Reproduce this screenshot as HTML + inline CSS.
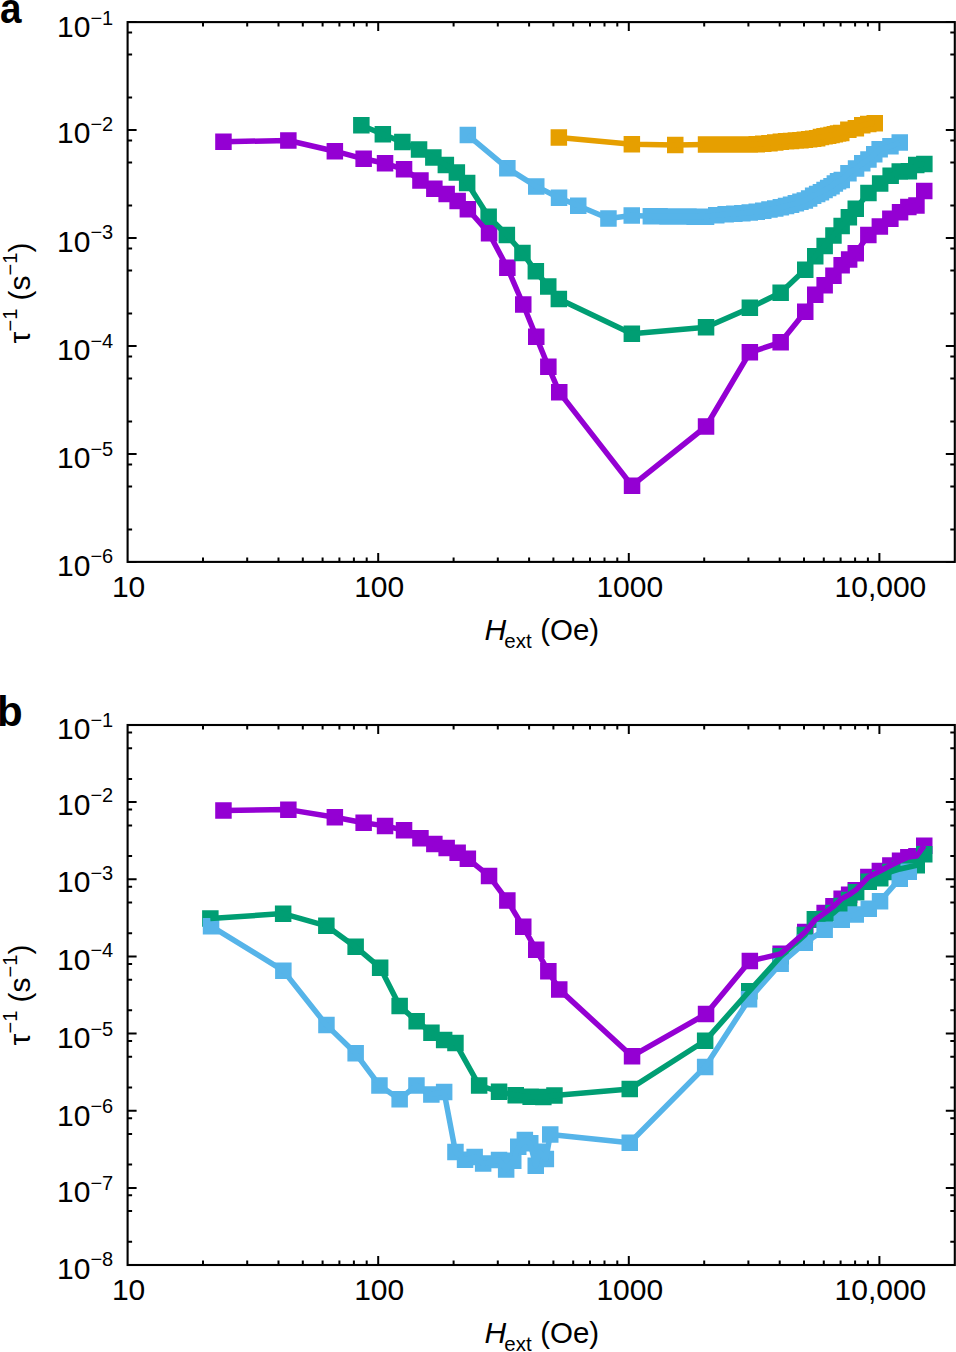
<!DOCTYPE html>
<html><head><meta charset="utf-8"><title>Relaxation rate vs field</title>
<style>html,body{margin:0;padding:0;background:#fff;width:956px;height:1352px;overflow:hidden}svg{display:block;font-family:"Liberation Sans",sans-serif}</style>
</head><body>
<svg width="956" height="1352" viewBox="0 0 956 1352">
<rect width="956" height="1352" fill="#fff"/>
<path fill="#9400D3" d="M215.2 133.4h16.5v16.5h-16.5zM280.1 132.2h16.5v16.5h-16.5zM326.6 142.9h16.5v16.5h-16.5zM355.4 150.6h16.5v16.5h-16.5zM376.8 155.1h16.5v16.5h-16.5zM395.8 161.1h16.5v16.5h-16.5zM412.2 172.2h16.5v16.5h-16.5zM426.1 180.4h16.5v16.5h-16.5zM438.4 185.8h16.5v16.5h-16.5zM449.4 192.8h16.5v16.5h-16.5zM459.6 201.1h16.5v16.5h-16.5zM480.8 225.1h16.5v16.5h-16.5zM499.1 259.6h16.5v16.5h-16.5zM515 296.2h16.5v16.5h-16.5zM528 328.4h16.5v16.5h-16.5zM540.1 358.6h16.5v16.5h-16.5zM551 383.9h16.5v16.5h-16.5zM623.8 477.4h16.5v16.5h-16.5zM697.8 418.2h16.5v16.5h-16.5zM741.6 344.1h16.5v16.5h-16.5zM772.4 334.1h16.5v16.5h-16.5zM797 303.6h16.5v16.5h-16.5zM807 286.4h16.5v16.5h-16.5zM816.4 277.1h16.5v16.5h-16.5zM825.2 267.6h16.5v16.5h-16.5zM833.4 257.1h16.5v16.5h-16.5zM840.9 251.2h16.5v16.5h-16.5zM847.5 244.9h16.5v16.5h-16.5zM860.1 226.7h16.5v16.5h-16.5zM871.6 218.2h16.5v16.5h-16.5zM882.1 210.4h16.5v16.5h-16.5zM891.8 203.9h16.5v16.5h-16.5zM900.1 198.8h16.5v16.5h-16.5zM908.2 197.3h16.5v16.5h-16.5zM916 182.8h16.5v16.5h-16.5z"/>
<path fill="#009E73" d="M353.1 117h16.5v16.5h-16.5zM374.6 126.1h16.5v16.5h-16.5zM394.1 133.8h16.5v16.5h-16.5zM410.8 141.3h16.5v16.5h-16.5zM425.1 149.2h16.5v16.5h-16.5zM437.6 156.7h16.5v16.5h-16.5zM448.6 164.2h16.5v16.5h-16.5zM458.9 174.8h16.5v16.5h-16.5zM480.4 208.4h16.5v16.5h-16.5zM498.6 226.8h16.5v16.5h-16.5zM514.2 244.8h16.5v16.5h-16.5zM527.6 263.1h16.5v16.5h-16.5zM540 278.2h16.5v16.5h-16.5zM550.6 290.8h16.5v16.5h-16.5zM623.6 325.4h16.5v16.5h-16.5zM697.8 319.1h16.5v16.5h-16.5zM741.6 299.6h16.5v16.5h-16.5zM772.4 284.4h16.5v16.5h-16.5zM797 261.4h16.5v16.5h-16.5zM807 248.1h16.5v16.5h-16.5zM816.4 237.7h16.5v16.5h-16.5zM825.2 227.2h16.5v16.5h-16.5zM833.4 217.8h16.5v16.5h-16.5zM840.6 208.9h16.5v16.5h-16.5zM847.5 200.6h16.5v16.5h-16.5zM860.2 184.8h16.5v16.5h-16.5zM871.9 175.3h16.5v16.5h-16.5zM882.4 167.6h16.5v16.5h-16.5zM891.5 163.3h16.5v16.5h-16.5zM900.6 163.1h16.5v16.5h-16.5zM908 156.8h16.5v16.5h-16.5zM916.1 155.8h16.5v16.5h-16.5z"/>
<path fill="#56B4E9" d="M459.6 126.8h16.5v16.5h-16.5zM499.1 159.9h16.5v16.5h-16.5zM528 178.2h16.5v16.5h-16.5zM550.8 189.6h16.5v16.5h-16.5zM570 197.4h16.5v16.5h-16.5zM600.2 210.2h16.5v16.5h-16.5zM623.5 207.3h16.5v16.5h-16.5zM642.6 208.1h16.5v16.5h-16.5zM651.3 208.1h16.5v16.5h-16.5zM659.3 208.2h16.5v16.5h-16.5zM666.7 208.2h16.5v16.5h-16.5zM673.7 208.3h16.5v16.5h-16.5zM680.2 208.3h16.5v16.5h-16.5zM686.4 208.4h16.5v16.5h-16.5zM692.2 208.4h16.5v16.5h-16.5zM697.8 208.4h16.5v16.5h-16.5zM708 207h16.5v16.5h-16.5zM717.4 206h16.5v16.5h-16.5zM726.1 205.6h16.5v16.5h-16.5zM734.1 204.9h16.5v16.5h-16.5zM741.5 204.2h16.5v16.5h-16.5zM748.5 203.4h16.5v16.5h-16.5zM755 202.5h16.5v16.5h-16.5zM761.2 201.2h16.5v16.5h-16.5zM767 200.2h16.5v16.5h-16.5zM772.6 199h16.5v16.5h-16.5zM777.8 197.8h16.5v16.5h-16.5zM782.8 196.4h16.5v16.5h-16.5zM787.6 195h16.5v16.5h-16.5zM792.2 193.6h16.5v16.5h-16.5zM796.6 192.2h16.5v16.5h-16.5zM800.9 190.2h16.5v16.5h-16.5zM804.9 187.6h16.5v16.5h-16.5zM808.9 185.7h16.5v16.5h-16.5zM812.7 183.9h16.5v16.5h-16.5zM816.3 181.8h16.5v16.5h-16.5zM819.9 179.8h16.5v16.5h-16.5zM823.3 177.9h16.5v16.5h-16.5zM826.6 175.2h16.5v16.5h-16.5zM829.8 173h16.5v16.5h-16.5zM833.5 171.8h16.5v16.5h-16.5zM840.2 164.9h16.5v16.5h-16.5zM847.8 160.2h16.5v16.5h-16.5zM854 155.1h16.5v16.5h-16.5zM860.2 151.2h16.5v16.5h-16.5zM866 146.1h16.5v16.5h-16.5zM871.4 140.9h16.5v16.5h-16.5zM882.2 138.1h16.5v16.5h-16.5zM891.5 134.3h16.5v16.5h-16.5z"/>
<path fill="#E69F00" d="M550.6 129.2h16.5v16.5h-16.5zM623.6 136.1h16.5v16.5h-16.5zM667 136.8h16.5v16.5h-16.5zM697.8 136.2h16.5v16.5h-16.5zM708 136.2h16.5v16.5h-16.5zM717.4 136.2h16.5v16.5h-16.5zM726.1 136.2h16.5v16.5h-16.5zM734.1 136.2h16.5v16.5h-16.5zM741.5 136.2h16.5v16.5h-16.5zM748.5 136h16.5v16.5h-16.5zM755 135.5h16.5v16.5h-16.5zM761.2 135h16.5v16.5h-16.5zM767 134.2h16.5v16.5h-16.5zM772.6 133.6h16.5v16.5h-16.5zM777.8 133h16.5v16.5h-16.5zM782.8 132.7h16.5v16.5h-16.5zM787.6 132.3h16.5v16.5h-16.5zM792.2 132h16.5v16.5h-16.5zM796.6 131.5h16.5v16.5h-16.5zM800.9 130.9h16.5v16.5h-16.5zM804.9 130.4h16.5v16.5h-16.5zM808.9 129.9h16.5v16.5h-16.5zM812.7 128.8h16.5v16.5h-16.5zM816.3 128.1h16.5v16.5h-16.5zM819.9 127.5h16.5v16.5h-16.5zM823.3 126.8h16.5v16.5h-16.5zM826.6 126h16.5v16.5h-16.5zM829.8 125.2h16.5v16.5h-16.5zM833 124.8h16.5v16.5h-16.5zM840.1 121.4h16.5v16.5h-16.5zM847.6 119.9h16.5v16.5h-16.5zM854 117h16.5v16.5h-16.5zM860 115.8h16.5v16.5h-16.5zM866.5 115h16.5v16.5h-16.5z"/>
<polyline fill="none" stroke="#E69F00" stroke-width="5.5" stroke-linejoin="round" stroke-linecap="butt" points="558.9,137.4 631.9,144.3 675.2,145.1 706,144.4 716.3,144.4 725.7,144.4 734.3,144.5 742.3,144.5 749.8,144.5 756.7,144.2 763.3,143.8 769.4,143.3 775.3,142.4 780.8,141.8 786.1,141.3 791.1,140.9 795.9,140.6 800.5,140.2 804.9,139.7 809.1,139.2 813.2,138.7 817.1,138.2 820.9,137 824.6,136.4 828.1,135.7 831.5,135.1 834.9,134.3 838.1,133.5 841.2,133.1 848.4,129.7 855.9,128.2 862.3,125.2 868.3,124 874.7,123.2"/>
<polyline fill="none" stroke="#56B4E9" stroke-width="5.5" stroke-linejoin="round" stroke-linecap="butt" points="467.8,135.1 507.3,168.2 536.2,186.4 559,197.8 578.3,205.7 608.5,218.5 631.8,215.6 650.9,216.3 659.5,216.4 667.5,216.4 675,216.5 681.9,216.5 688.5,216.6 694.6,216.6 700.5,216.7 706,216.6 716.3,215.3 725.7,214.3 734.3,213.9 742.3,213.1 749.8,212.4 756.7,211.7 763.3,210.7 769.4,209.4 775.3,208.5 780.8,207.2 786.1,206.1 791.1,204.6 795.9,203.3 800.5,201.8 804.9,200.4 809.1,198.4 813.2,195.8 817.1,193.9 820.9,192.1 824.6,190.1 828.1,188.1 831.5,186.2 834.9,183.5 838.1,181.3 841.8,180 848.5,173.2 856,168.5 862.3,163.3 868.5,159.5 874.2,154.3 879.6,149.2 890.5,146.3 899.7,142.6"/>
<polyline fill="none" stroke="#009E73" stroke-width="5.5" stroke-linejoin="round" stroke-linecap="butt" points="361.3,125.3 382.9,134.3 402.3,142.1 419,149.6 433.4,157.4 445.9,164.9 456.8,172.4 467.2,183 488.6,216.7 506.9,235 522.5,253 535.9,271.4 548.3,286.5 558.9,299 631.9,333.7 706,327.3 749.9,307.9 780.6,292.7 805.2,269.6 815.2,256.4 824.6,245.9 833.5,235.5 841.6,226 848.9,217.2 855.8,208.8 868.5,193.1 880.1,183.6 890.6,175.8 899.8,171.6 908.9,171.3 916.2,165.1 924.4,164"/>
<polyline fill="none" stroke="#9400D3" stroke-width="5.5" stroke-linejoin="round" stroke-linecap="butt" points="223.4,141.7 288.4,140.5 334.9,151.2 363.6,158.8 385,163.3 404,169.3 420.5,180.4 434.3,188.7 446.6,194.1 457.7,201 467.9,209.3 489,233.3 507.4,267.8 523.2,304.5 536.2,336.7 548.4,366.8 559.2,392.1 632,485.6 706,426.5 749.9,352.4 780.6,342.4 805.2,311.8 815.2,294.7 824.6,285.3 833.5,275.9 841.6,265.3 849.1,259.5 855.8,253.2 868.4,234.9 879.9,226.5 890.4,218.7 900,212.2 908.4,207 916.5,205.6 924.3,191"/>
<path fill="none" stroke="#000" stroke-width="2" d="M203 561.9v-4.5M203 22.1v4.5M247.2 561.9v-4.5M247.2 22.1v4.5M278.5 561.9v-4.5M278.5 22.1v4.5M302.8 561.9v-4.5M302.8 22.1v4.5M322.6 561.9v-4.5M322.6 22.1v4.5M339.4 561.9v-4.5M339.4 22.1v4.5M353.9 561.9v-4.5M353.9 22.1v4.5M366.7 561.9v-4.5M366.7 22.1v4.5M378.2 561.9v-9M378.2 22.1v9M453.6 561.9v-4.5M453.6 22.1v4.5M497.8 561.9v-4.5M497.8 22.1v4.5M529.1 561.9v-4.5M529.1 22.1v4.5M553.4 561.9v-4.5M553.4 22.1v4.5M573.2 561.9v-4.5M573.2 22.1v4.5M590 561.9v-4.5M590 22.1v4.5M604.5 561.9v-4.5M604.5 22.1v4.5M617.3 561.9v-4.5M617.3 22.1v4.5M628.8 561.9v-9M628.8 22.1v9M704.2 561.9v-4.5M704.2 22.1v4.5M748.4 561.9v-4.5M748.4 22.1v4.5M779.7 561.9v-4.5M779.7 22.1v4.5M804 561.9v-4.5M804 22.1v4.5M823.8 561.9v-4.5M823.8 22.1v4.5M840.6 561.9v-4.5M840.6 22.1v4.5M855.1 561.9v-4.5M855.1 22.1v4.5M867.9 561.9v-4.5M867.9 22.1v4.5M879.4 561.9v-9M879.4 22.1v9M127.6 22.1h9M954.8 22.1h-9M127.6 130.1h9M954.8 130.1h-9M127.6 97.6h4.5M954.8 97.6h-4.5M127.6 54.6h4.5M954.8 54.6h-4.5M127.6 32.6h4.5M954.8 32.6h-4.5M127.6 238h9M954.8 238h-9M127.6 205.5h4.5M954.8 205.5h-4.5M127.6 162.5h4.5M954.8 162.5h-4.5M127.6 140.5h4.5M954.8 140.5h-4.5M127.6 346h9M954.8 346h-9M127.6 313.5h4.5M954.8 313.5h-4.5M127.6 270.5h4.5M954.8 270.5h-4.5M127.6 248.5h4.5M954.8 248.5h-4.5M127.6 453.9h9M954.8 453.9h-9M127.6 421.4h4.5M954.8 421.4h-4.5M127.6 378.4h4.5M954.8 378.4h-4.5M127.6 356.4h4.5M954.8 356.4h-4.5M127.6 561.9h9M954.8 561.9h-9M127.6 529.4h4.5M954.8 529.4h-4.5M127.6 486.4h4.5M954.8 486.4h-4.5M127.6 464.4h4.5M954.8 464.4h-4.5"/>
<rect x="127.6" y="22.1" width="827.2" height="539.8" fill="none" stroke="#000" stroke-width="2.1"/>
<text x="57" y="37.1" font-family="Liberation Sans" font-size="30">10<tspan font-size="20" dy="-12.4">−1</tspan></text>
<text x="57" y="142.9" font-family="Liberation Sans" font-size="30">10<tspan font-size="20" dy="-12.4">−2</tspan></text>
<text x="57" y="251.8" font-family="Liberation Sans" font-size="30">10<tspan font-size="20" dy="-12.4">−3</tspan></text>
<text x="57" y="360.4" font-family="Liberation Sans" font-size="30">10<tspan font-size="20" dy="-12.4">−4</tspan></text>
<text x="57" y="468.1" font-family="Liberation Sans" font-size="30">10<tspan font-size="20" dy="-12.4">−5</tspan></text>
<text x="57" y="575.6" font-family="Liberation Sans" font-size="30">10<tspan font-size="20" dy="-12.4">−6</tspan></text>
<text x="128.6" y="596.9" font-family="Liberation Sans" font-size="30" text-anchor="middle">10</text>
<text x="379.2" y="596.9" font-family="Liberation Sans" font-size="30" text-anchor="middle">100</text>
<text x="629.8" y="596.9" font-family="Liberation Sans" font-size="30" text-anchor="middle">1000</text>
<text x="880.4" y="596.9" font-family="Liberation Sans" font-size="30" text-anchor="middle">10,000</text>
<text x="484.6" y="639.8" font-family="Liberation Sans" font-size="30" font-style="italic">H</text><text x="504.3" y="647.8" font-family="Liberation Sans" font-size="20.5">ext</text><text x="540.2" y="639.8" font-family="Liberation Sans" font-size="29.5">(Oe)</text>
<text transform="translate(30,293) rotate(-90)" font-family="Liberation Sans" font-size="30" text-anchor="middle">τ<tspan font-size="20" dy="-13.4">−1</tspan><tspan dy="13.4"> (s</tspan><tspan font-size="20" dy="-13.4">−1</tspan><tspan dy="13.4">)</tspan></text>
<text x="0" y="22.7" transform="scale(0.92,1)" font-family="Liberation Sans" font-size="42" font-weight="bold">a</text>
<path fill="#9400D3" d="M215.2 802.2h16.5v16.5h-16.5zM280.1 801.4h16.5v16.5h-16.5zM326.6 809h16.5v16.5h-16.5zM355.4 814.4h16.5v16.5h-16.5zM376.8 817.7h16.5v16.5h-16.5zM395.8 821.9h16.5v16.5h-16.5zM412.2 829.9h16.5v16.5h-16.5zM426.1 835.8h16.5v16.5h-16.5zM438.4 839.7h16.5v16.5h-16.5zM449.4 844.6h16.5v16.5h-16.5zM459.6 850.5h16.5v16.5h-16.5zM480.8 867.7h16.5v16.5h-16.5zM499.1 892.3h16.5v16.5h-16.5zM515 918.6h16.5v16.5h-16.5zM528 941.6h16.5v16.5h-16.5zM540.1 963.1h16.5v16.5h-16.5zM551 981.2h16.5v16.5h-16.5zM623.8 1048h16.5v16.5h-16.5zM697.8 1005.7h16.5v16.5h-16.5zM741.6 952.8h16.5v16.5h-16.5zM772.4 945.6h16.5v16.5h-16.5zM797 923.8h16.5v16.5h-16.5zM807 911.6h16.5v16.5h-16.5zM816.4 904.8h16.5v16.5h-16.5zM825.2 898.1h16.5v16.5h-16.5zM833.4 890.5h16.5v16.5h-16.5zM840.9 886.4h16.5v16.5h-16.5zM847.5 881.9h16.5v16.5h-16.5zM860.1 868.8h16.5v16.5h-16.5zM871.6 862.8h16.5v16.5h-16.5zM882.1 857.2h16.5v16.5h-16.5zM891.8 852.6h16.5v16.5h-16.5zM900.1 848.9h16.5v16.5h-16.5zM908.2 847.9h16.5v16.5h-16.5zM916 837.4h16.5v16.5h-16.5z"/>
<path fill="#009E73" d="M202.1 910.2h16.5v16.5h-16.5zM274.9 905.4h16.5v16.5h-16.5zM318.1 917.5h16.5v16.5h-16.5zM347.4 938.6h16.5v16.5h-16.5zM371.9 959.4h16.5v16.5h-16.5zM391.4 997.8h16.5v16.5h-16.5zM408.4 1012.9h16.5v16.5h-16.5zM423.2 1024.5h16.5v16.5h-16.5zM435.9 1031.8h16.5v16.5h-16.5zM447.2 1034.8h16.5v16.5h-16.5zM470.9 1077.2h16.5v16.5h-16.5zM490.8 1083.5h16.5v16.5h-16.5zM507.5 1087h16.5v16.5h-16.5zM522.4 1088.5h16.5v16.5h-16.5zM535.1 1088.8h16.5v16.5h-16.5zM546.2 1087.2h16.5v16.5h-16.5zM621.5 1080.7h16.5v16.5h-16.5zM696.9 1032.5h16.5v16.5h-16.5zM741 983h16.5v16.5h-16.5zM772.5 948.1h16.5v16.5h-16.5zM796.6 926.8h16.5v16.5h-16.5zM806.6 910.9h16.5v16.5h-16.5zM816.4 910.8h16.5v16.5h-16.5zM825.2 904.8h16.5v16.5h-16.5zM833.4 897.8h16.5v16.5h-16.5zM840.8 891.8h16.5v16.5h-16.5zM847.9 883.9h16.5v16.5h-16.5zM860.5 873.5h16.5v16.5h-16.5zM872 869.9h16.5v16.5h-16.5zM882.2 863.8h16.5v16.5h-16.5zM891.8 860.8h16.5v16.5h-16.5zM900.6 858.8h16.5v16.5h-16.5zM908.5 857h16.5v16.5h-16.5zM916 846h16.5v16.5h-16.5z"/>
<path fill="#56B4E9" d="M202.8 917.9h16.5v16.5h-16.5zM275.1 962.4h16.5v16.5h-16.5zM318.2 1016.8h16.5v16.5h-16.5zM347.4 1045h16.5v16.5h-16.5zM371.2 1077.2h16.5v16.5h-16.5zM391.4 1091h16.5v16.5h-16.5zM408.2 1077.2h16.5v16.5h-16.5zM423.1 1086.2h16.5v16.5h-16.5zM435.9 1083.8h16.5v16.5h-16.5zM447.2 1143.8h16.5v16.5h-16.5zM456.8 1151.5h16.5v16.5h-16.5zM466.4 1148.8h16.5v16.5h-16.5zM474.9 1155.3h16.5v16.5h-16.5zM490.8 1151.8h16.5v16.5h-16.5zM497.9 1161.2h16.5v16.5h-16.5zM505 1152.5h16.5v16.5h-16.5zM510 1138.5h16.5v16.5h-16.5zM516.6 1131.7h16.5v16.5h-16.5zM522 1135h16.5v16.5h-16.5zM527.5 1157.5h16.5v16.5h-16.5zM531.2 1143.5h16.5v16.5h-16.5zM537.6 1150.7h16.5v16.5h-16.5zM542 1126.2h16.5v16.5h-16.5zM621.5 1134.5h16.5v16.5h-16.5zM696.9 1058.7h16.5v16.5h-16.5zM740.8 991.1h16.5v16.5h-16.5zM772.4 955.4h16.5v16.5h-16.5zM796.5 934.6h16.5v16.5h-16.5zM816.4 921.5h16.5v16.5h-16.5zM833.5 911.5h16.5v16.5h-16.5zM847.5 906.2h16.5v16.5h-16.5zM860.5 900.5h16.5v16.5h-16.5zM871.8 892.9h16.5v16.5h-16.5zM891.5 870.5h16.5v16.5h-16.5zM900.5 863.5h16.5v16.5h-16.5z"/>
<polyline fill="none" stroke="#56B4E9" stroke-width="5.5" stroke-linejoin="round" stroke-linecap="butt" points="211,926.1 283.3,970.6 326.5,1025.1 355.6,1053.3 379.5,1085.4 399.6,1099.2 416.5,1085.4 431.3,1094.4 444.1,1092.1 455.5,1152.1 465,1159.8 474.6,1157 483.1,1163.6 499,1160 506.2,1169.4 513.2,1160.7 518.3,1146.8 524.9,1139.9 530.2,1143.3 535.7,1165.7 539.5,1151.8 545.9,1158.9 550.3,1134.4 629.8,1142.7 705.1,1066.9 749,999.4 780.6,963.6 804.8,942.9 824.6,929.8 841.8,919.7 855.8,914.5 868.8,908.7 880,901.1 899.8,878.7 908.8,871.7"/>
<polyline fill="none" stroke="#009E73" stroke-width="5.5" stroke-linejoin="round" stroke-linecap="butt" points="210.3,918.5 283.1,913.6 326.4,925.8 355.6,946.9 380.1,967.6 399.7,1006 416.6,1021.1 431.5,1032.7 444.2,1040 455.5,1043.1 479.2,1085.5 499,1091.7 515.8,1095.3 530.6,1096.7 543.4,1097.1 554.5,1095.4 629.8,1088.9 705.1,1040.8 749.3,991.2 780.7,956.4 804.9,935 814.9,919.1 824.6,919 833.5,913 841.6,906 849,900 856.1,892.1 868.7,881.7 880.3,878.1 890.5,872 900,869 908.9,867 916.8,865.3 924.2,854.3"/>
<polyline fill="none" stroke="#9400D3" stroke-width="5.5" stroke-linejoin="round" stroke-linecap="butt" points="223.4,810.5 288.4,809.6 334.9,817.3 363.6,822.7 385,825.9 404,830.2 420.5,838.1 434.3,844.1 446.6,847.9 457.7,852.8 467.9,858.8 489,875.9 507.4,900.6 523.2,926.8 536.2,949.8 548.4,971.3 559.2,989.4 632,1056.2 706,1014 749.9,961 780.6,953.9 805.2,932 815.2,919.8 824.6,913.1 833.5,906.4 841.6,898.8 849.1,894.7 855.8,890.1 868.4,877.1 879.9,871.1 890.4,865.5 900,860.8 908.4,857.1 916.5,856.1 924.3,845.7"/>
<path fill="none" stroke="#000" stroke-width="2" d="M203 1265v-4.5M203 725v4.5M247.2 1265v-4.5M247.2 725v4.5M278.5 1265v-4.5M278.5 725v4.5M302.8 1265v-4.5M302.8 725v4.5M322.6 1265v-4.5M322.6 725v4.5M339.4 1265v-4.5M339.4 725v4.5M353.9 1265v-4.5M353.9 725v4.5M366.7 1265v-4.5M366.7 725v4.5M378.2 1265v-9M378.2 725v9M453.6 1265v-4.5M453.6 725v4.5M497.8 1265v-4.5M497.8 725v4.5M529.1 1265v-4.5M529.1 725v4.5M553.4 1265v-4.5M553.4 725v4.5M573.2 1265v-4.5M573.2 725v4.5M590 1265v-4.5M590 725v4.5M604.5 1265v-4.5M604.5 725v4.5M617.3 1265v-4.5M617.3 725v4.5M628.8 1265v-9M628.8 725v9M704.2 1265v-4.5M704.2 725v4.5M748.4 1265v-4.5M748.4 725v4.5M779.7 1265v-4.5M779.7 725v4.5M804 1265v-4.5M804 725v4.5M823.8 1265v-4.5M823.8 725v4.5M840.6 1265v-4.5M840.6 725v4.5M855.1 1265v-4.5M855.1 725v4.5M867.9 1265v-4.5M867.9 725v4.5M879.4 1265v-9M879.4 725v9M127.6 725h9M954.8 725h-9M127.6 802.1h9M954.8 802.1h-9M127.6 778.9h4.5M954.8 778.9h-4.5M127.6 748.2h4.5M954.8 748.2h-4.5M127.6 732.5h4.5M954.8 732.5h-4.5M127.6 879.3h9M954.8 879.3h-9M127.6 856.1h4.5M954.8 856.1h-4.5M127.6 825.4h4.5M954.8 825.4h-4.5M127.6 809.6h4.5M954.8 809.6h-4.5M127.6 956.4h9M954.8 956.4h-9M127.6 933.2h4.5M954.8 933.2h-4.5M127.6 902.5h4.5M954.8 902.5h-4.5M127.6 886.8h4.5M954.8 886.8h-4.5M127.6 1033.6h9M954.8 1033.6h-9M127.6 1010.3h4.5M954.8 1010.3h-4.5M127.6 979.7h4.5M954.8 979.7h-4.5M127.6 963.9h4.5M954.8 963.9h-4.5M127.6 1110.7h9M954.8 1110.7h-9M127.6 1087.5h4.5M954.8 1087.5h-4.5M127.6 1056.8h4.5M954.8 1056.8h-4.5M127.6 1041h4.5M954.8 1041h-4.5M127.6 1187.9h9M954.8 1187.9h-9M127.6 1164.6h4.5M954.8 1164.6h-4.5M127.6 1133.9h4.5M954.8 1133.9h-4.5M127.6 1118.2h4.5M954.8 1118.2h-4.5M127.6 1265h9M954.8 1265h-9M127.6 1241.8h4.5M954.8 1241.8h-4.5M127.6 1211.1h4.5M954.8 1211.1h-4.5M127.6 1195.3h4.5M954.8 1195.3h-4.5"/>
<rect x="127.6" y="725" width="827.2" height="540" fill="none" stroke="#000" stroke-width="2.1"/>
<text x="57" y="739.2" font-family="Liberation Sans" font-size="30">10<tspan font-size="20" dy="-12.4">−1</tspan></text>
<text x="57" y="814.6" font-family="Liberation Sans" font-size="30">10<tspan font-size="20" dy="-12.4">−2</tspan></text>
<text x="57" y="892.3" font-family="Liberation Sans" font-size="30">10<tspan font-size="20" dy="-12.4">−3</tspan></text>
<text x="57" y="969.6" font-family="Liberation Sans" font-size="30">10<tspan font-size="20" dy="-12.4">−4</tspan></text>
<text x="57" y="1048" font-family="Liberation Sans" font-size="30">10<tspan font-size="20" dy="-12.4">−5</tspan></text>
<text x="57" y="1125.6" font-family="Liberation Sans" font-size="30">10<tspan font-size="20" dy="-12.4">−6</tspan></text>
<text x="57" y="1202.2" font-family="Liberation Sans" font-size="30">10<tspan font-size="20" dy="-12.4">−7</tspan></text>
<text x="57" y="1278.5" font-family="Liberation Sans" font-size="30">10<tspan font-size="20" dy="-12.4">−8</tspan></text>
<text x="128.6" y="1299.9" font-family="Liberation Sans" font-size="30" text-anchor="middle">10</text>
<text x="379.2" y="1299.9" font-family="Liberation Sans" font-size="30" text-anchor="middle">100</text>
<text x="629.8" y="1299.9" font-family="Liberation Sans" font-size="30" text-anchor="middle">1000</text>
<text x="880.4" y="1299.9" font-family="Liberation Sans" font-size="30" text-anchor="middle">10,000</text>
<text x="484.6" y="1342.8" font-family="Liberation Sans" font-size="30" font-style="italic">H</text><text x="504.3" y="1350.8" font-family="Liberation Sans" font-size="20.5">ext</text><text x="540.2" y="1342.8" font-family="Liberation Sans" font-size="29.5">(Oe)</text>
<text transform="translate(30,995) rotate(-90)" font-family="Liberation Sans" font-size="30" text-anchor="middle">τ<tspan font-size="20" dy="-13.4">−1</tspan><tspan dy="13.4"> (s</tspan><tspan font-size="20" dy="-13.4">−1</tspan><tspan dy="13.4">)</tspan></text>
<text x="-3" y="725.5" font-family="Liberation Sans" font-size="42" font-weight="bold">b</text>
</svg>
</body></html>
